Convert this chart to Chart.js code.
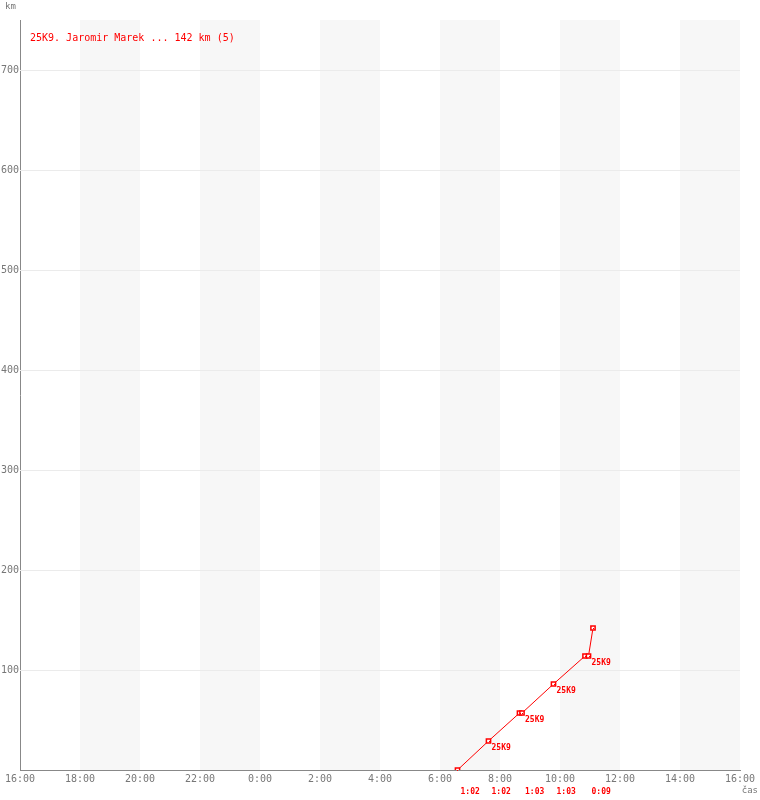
<!DOCTYPE html>
<html>
<head>
<meta charset="utf-8">
<script src="https://cdn.jsdelivr.net/npm/chart.js@4"></script>
<style>
html,body{margin:0;padding:0;background:#fff;}
#wrap{width:760px;height:800px;position:relative;}
</style>
</head>
<body>
<div id="wrap"><canvas id="c" width="760" height="800"></canvas></div>
<script>
// ---- data ----
const titleText = '25K9. Jaromir Marek ... 142 km (5)';
const times = ['6:35','7:37','8:39','8:44','9:47','10:50','10:57','11:06'];
const km = [0, 29, 57, 57, 86, 114, 114, 142];
const pointLabels = ['', '25K9', '', '25K9', '25K9', '', '25K9', ''];
const legStarts = ['6:35','7:37','8:44','9:47','10:57'];
const legLabels = ['1:02','1:02','1:03','1:03','0:09'];
const yTicks = [100, 200, 300, 400, 500, 600, 700];
const xStartHour = 16; // axis starts at 16:00, spans 24 h

function toOffset(t){
  const [h,m] = t.split(':').map(Number);
  return ((h + m/60 - xStartHour) + 24) % 24;
}
const points = times.map((t,i)=>({x: toOffset(t), y: km[i]}));

const RED = '#ff0000';
const MONO = '"DejaVu Sans Mono", "Liberation Mono", monospace';

const decorPlugin = {
  id: 'decor',
  beforeDatasetsDraw(chart){
    const {ctx, chartArea:a, scales:{x}} = chart;
    ctx.save();
    ctx.fillStyle = '#f7f7f7';
    for (let s = 2; s < 24; s += 4){
      const x0 = x.getPixelForValue(s), x1 = x.getPixelForValue(s+2);
      ctx.fillRect(x0, a.top, x1-x0, a.bottom-a.top);
    }
    const y = chart.scales.y;
    ctx.strokeStyle = '#ebebeb';
    ctx.lineWidth = 1;
    yTicks.forEach(v=>{
      const py = Math.round(y.getPixelForValue(v)) + 0.5;
      ctx.beginPath(); ctx.moveTo(a.left, py); ctx.lineTo(a.right, py); ctx.stroke();
    });
    ctx.restore();
  },
  afterDatasetsDraw(chart){
    const {ctx, chartArea:a, scales:{x,y}} = chart;
    ctx.save();
    ctx.fillStyle = RED;
    points.forEach(p=>{
      const px = Math.round(x.getPixelForValue(p.x)), py = Math.round(y.getPixelForValue(p.y));
      ctx.fillRect(px, py, 1, 1);
    });
    // point labels
    ctx.font = 'bold 8px ' + MONO;
    ctx.textAlign = 'left';
    ctx.textBaseline = 'top';
    points.forEach((p,i)=>{
      if (!pointLabels[i]) return;
      const px = x.getPixelForValue(p.x), py = y.getPixelForValue(p.y);
      ctx.fillText(pointLabels[i], px + 3, py + 3);
    });
    // title
    ctx.font = '10px ' + MONO;
    ctx.fillText(titleText, a.left + 10, a.top + 13);
    // leg durations
    ctx.font = 'bold 8px ' + MONO;
    ctx.textAlign = 'left';
    legStarts.forEach((t,i)=>{
      const px = x.getPixelForValue(toOffset(t));
      ctx.fillText(legLabels[i], px + 3, a.bottom + 18);
    });
    // axis unit labels
    ctx.fillStyle = '#777';
    ctx.font = '9px ' + MONO;
    ctx.textAlign = 'left';
    ctx.fillText('km', 5, 2);
    ctx.textAlign = 'right';
    ctx.fillText('čas', 758, 786);
    ctx.restore();
  }
};

new Chart(document.getElementById('c'), {
  type: 'line',
  data: {
    datasets: [{
      data: points,
      borderColor: RED,
      borderWidth: 1,
      pointStyle: 'rect',
      pointRadius: 3,
      pointBorderColor: RED,
      pointBackgroundColor: '#fff',
      pointBorderWidth: 1.5,
      tension: 0,
      fill: false
    }]
  },
  options: {
    responsive: false,
    animation: false,
    events: [],
    layout: {padding: {top: 20, right: 20, left: 0, bottom: 0}},
    plugins: {legend: {display: false}, tooltip: {enabled: false}},
    scales: {
      x: {
        type: 'linear', min: 0, max: 24,
        afterFit(s){ s.height = 30; },
        grid: {display: false, drawTicks: false},
        border: {display: true, color: '#888', width: 1},
        ticks: {
          stepSize: 2, autoSkip: false, maxRotation: 0, padding: 3,
          color: '#777', font: {family: MONO, size: 10},
          callback: v => ((xStartHour + v) % 24) + ':00'
        }
      },
      y: {
        type: 'linear', min: 0, max: 750,
        afterFit(s){ s.width = 20; },
        afterBuildTicks(s){ s.ticks = yTicks.map(v=>({value:v})); },
        grid: {display: false, drawTicks: false},
        border: {display: true, color: '#888', width: 1},
        ticks: {
          padding: 1, color: '#777', font: {family: MONO, size: 10},
          callback: v => String(v)
        }
      }
    }
  },
  plugins: [decorPlugin]
});
</script>
</body>
</html>
